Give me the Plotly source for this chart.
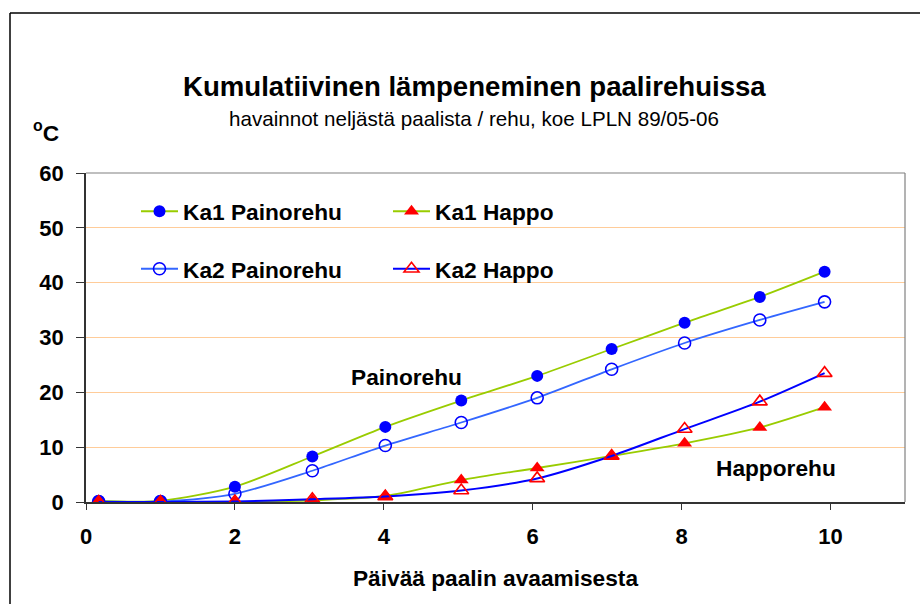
import plotly.graph_objects as go

# ---- data ----
days = [0.17, 1.0, 2.0, 3.04, 4.02, 5.04, 6.06, 7.06, 8.04, 9.05, 9.92]
ka1_painorehu = [0.2, 0.2, 2.8, 8.3, 13.7, 18.5, 23.0, 27.9, 32.7, 37.4, 42.0]
ka2_painorehu = [0.1, 0.1, 1.5, 5.7, 10.3, 14.5, 19.0, 24.2, 29.0, 33.2, 36.5]
ka1_happo = [0.0, 0.0, 0.0, 0.3, 1.1, 4.0, 6.2, 8.4, 10.7, 13.6, 17.3]
ka2_happo = [0.0, 0.0, 0.1, 0.5, 1.0, 2.1, 4.3, 8.4, 13.3, 18.3, 23.5]
x_ticks = [0, 2, 4, 6, 8, 10]
y_ticks = [0, 10, 20, 30, 40, 50, 60]

FONT = "Liberation Sans, Arial, sans-serif"

# figure geometry (pixels)
W, H = 920, 604
L, R, T, B = 86, 15, 173, 102
PW, PH = W - L - R, H - T - B


def px(xpix):
    return (xpix - L) / PW


def py(ypix):
    return (H - B - ypix) / PH


fig = go.Figure()

fig.add_trace(go.Scatter(
    x=days, y=ka1_painorehu, name="Ka1 Painorehu", mode="lines+markers",
    line=dict(color="#99CC00", width=1.8, shape="spline", smoothing=0.8),
    marker=dict(symbol="circle", size=12, color="#0000FF"),
    legend="legend", legendgroup="a"))
fig.add_trace(go.Scatter(
    x=days, y=ka2_painorehu, name="Ka2 Painorehu", mode="lines+markers",
    line=dict(color="#3366FF", width=1.8, shape="spline", smoothing=0.8),
    marker=dict(symbol="circle-open", size=12, color="#0000FF",
                line=dict(width=1.6, color="#0000FF")),
    legend="legend", legendgroup="b"))
fig.add_trace(go.Scatter(
    x=days, y=ka1_happo, name="Ka1 Happo", mode="lines+markers",
    line=dict(color="#99CC00", width=1.8, shape="spline", smoothing=0.8),
    marker=dict(symbol="triangle-up", size=13, color="#FF0000"),
    legend="legend2", legendgroup="c"))
fig.add_trace(go.Scatter(
    x=days, y=ka2_happo, name="Ka2 Happo", mode="lines+markers",
    line=dict(color="#0000FF", width=2, shape="spline", smoothing=0.8),
    marker=dict(symbol="triangle-up-open", size=13, color="#FF0000",
                line=dict(width=1.6, color="#FF0000")),
    legend="legend2", legendgroup="d"))

bold = dict(family=FONT, size=22.7, color="black", weight="bold")
tickbold = dict(family=FONT, size=22, color="black", weight="bold")

fig.update_xaxes(
    range=[0, 11], tickvals=x_ticks, ticks="outside", ticklen=6,
    tickcolor="#333333", tickwidth=1.2, showline=True, linecolor="#333333",
    linewidth=1.5, showgrid=False, zeroline=False, tickfont=tickbold,
    ticklabelstandoff=8,
    title=dict(text="Päivää paalin avaamisesta", font=bold, standoff=22))
fig.update_yaxes(
    range=[0, 60], tickvals=y_ticks, ticks="outside", ticklen=8,
    tickcolor="#333333", tickwidth=1.2, showline=True, linecolor="#333333",
    linewidth=1.5, showgrid=True, gridcolor="#FFCC99", gridwidth=1,
    zeroline=False, tickfont=tickbold, ticklabelstandoff=8)

shapes = [
    # white box behind legend (hides gridlines)
    dict(type="rect", xref="paper", yref="paper", x0=px(113), x1=px(616),
         y0=py(300), y1=py(186), fillcolor="white", line=dict(width=0),
         layer="between"),
    # gray top / right plot border
    dict(type="line", xref="paper", yref="paper", x0=0, x1=1, y0=1, y1=1,
         line=dict(color="#808080", width=1.2)),
    dict(type="line", xref="paper", yref="paper", x0=1, x1=1, y0=0, y1=1,
         line=dict(color="#808080", width=1.2)),
    # outer chart border (top and left)
    dict(type="line", xref="paper", yref="paper", x0=px(10), x1=px(925),
         y0=py(13), y1=py(13), line=dict(color="black", width=1.5)),
    dict(type="line", xref="paper", yref="paper", x0=px(10), x1=px(10),
         y0=py(13), y1=py(610), line=dict(color="black", width=1.5)),
]

annotations = [
    dict(text="Kumulatiivinen lämpeneminen paalirehuissa", xref="paper",
         yref="paper", x=px(474), y=py(87), xanchor="center", yanchor="middle",
         showarrow=False, font=dict(family=FONT, size=27.6, color="black",
                                    weight="bold")),
    dict(text="havainnot neljästä paalista / rehu, koe LPLN 89/05-06",
         xref="paper", yref="paper", x=px(474), y=py(119), xanchor="center",
         yanchor="middle", showarrow=False,
         font=dict(family=FONT, size=20.6, color="black")),
    dict(text="<sup>o</sup>C", xref="paper", yref="paper", x=px(46),
         y=py(132), xanchor="center", yanchor="middle", showarrow=False,
         font=bold),
    dict(text="Painorehu", xref="paper", yref="paper", x=px(406), y=py(377),
         xanchor="center", yanchor="middle", showarrow=False, font=bold),
    dict(text="Happorehu", xref="paper", yref="paper", x=px(776), y=py(468),
         xanchor="center", yanchor="middle", showarrow=False, font=bold),
]

legend_common = dict(
    orientation="v", traceorder="grouped", tracegroupgap=25,
    bgcolor="rgba(0,0,0,0)", borderwidth=0, font=bold, itemwidth=37,
    xanchor="left", yanchor="top", itemclick=False, itemdoubleclick=False)

fig.update_layout(
    width=W, height=H,
    margin=dict(l=L, r=R, t=T, b=B, autoexpand=False),
    paper_bgcolor="white", plot_bgcolor="white",
    font=dict(family=FONT, color="black"),
    showlegend=True,
    legend=dict(x=px(136), y=py(190), **legend_common),
    legend2=dict(x=px(388), y=py(190), **legend_common),
    shapes=shapes, annotations=annotations,
)

fig.write_html(
    "out.html",
    config={"displayModeBar": False},
    post_script="document.body.style.margin='0';"
                "document.body.style.padding='0';")
